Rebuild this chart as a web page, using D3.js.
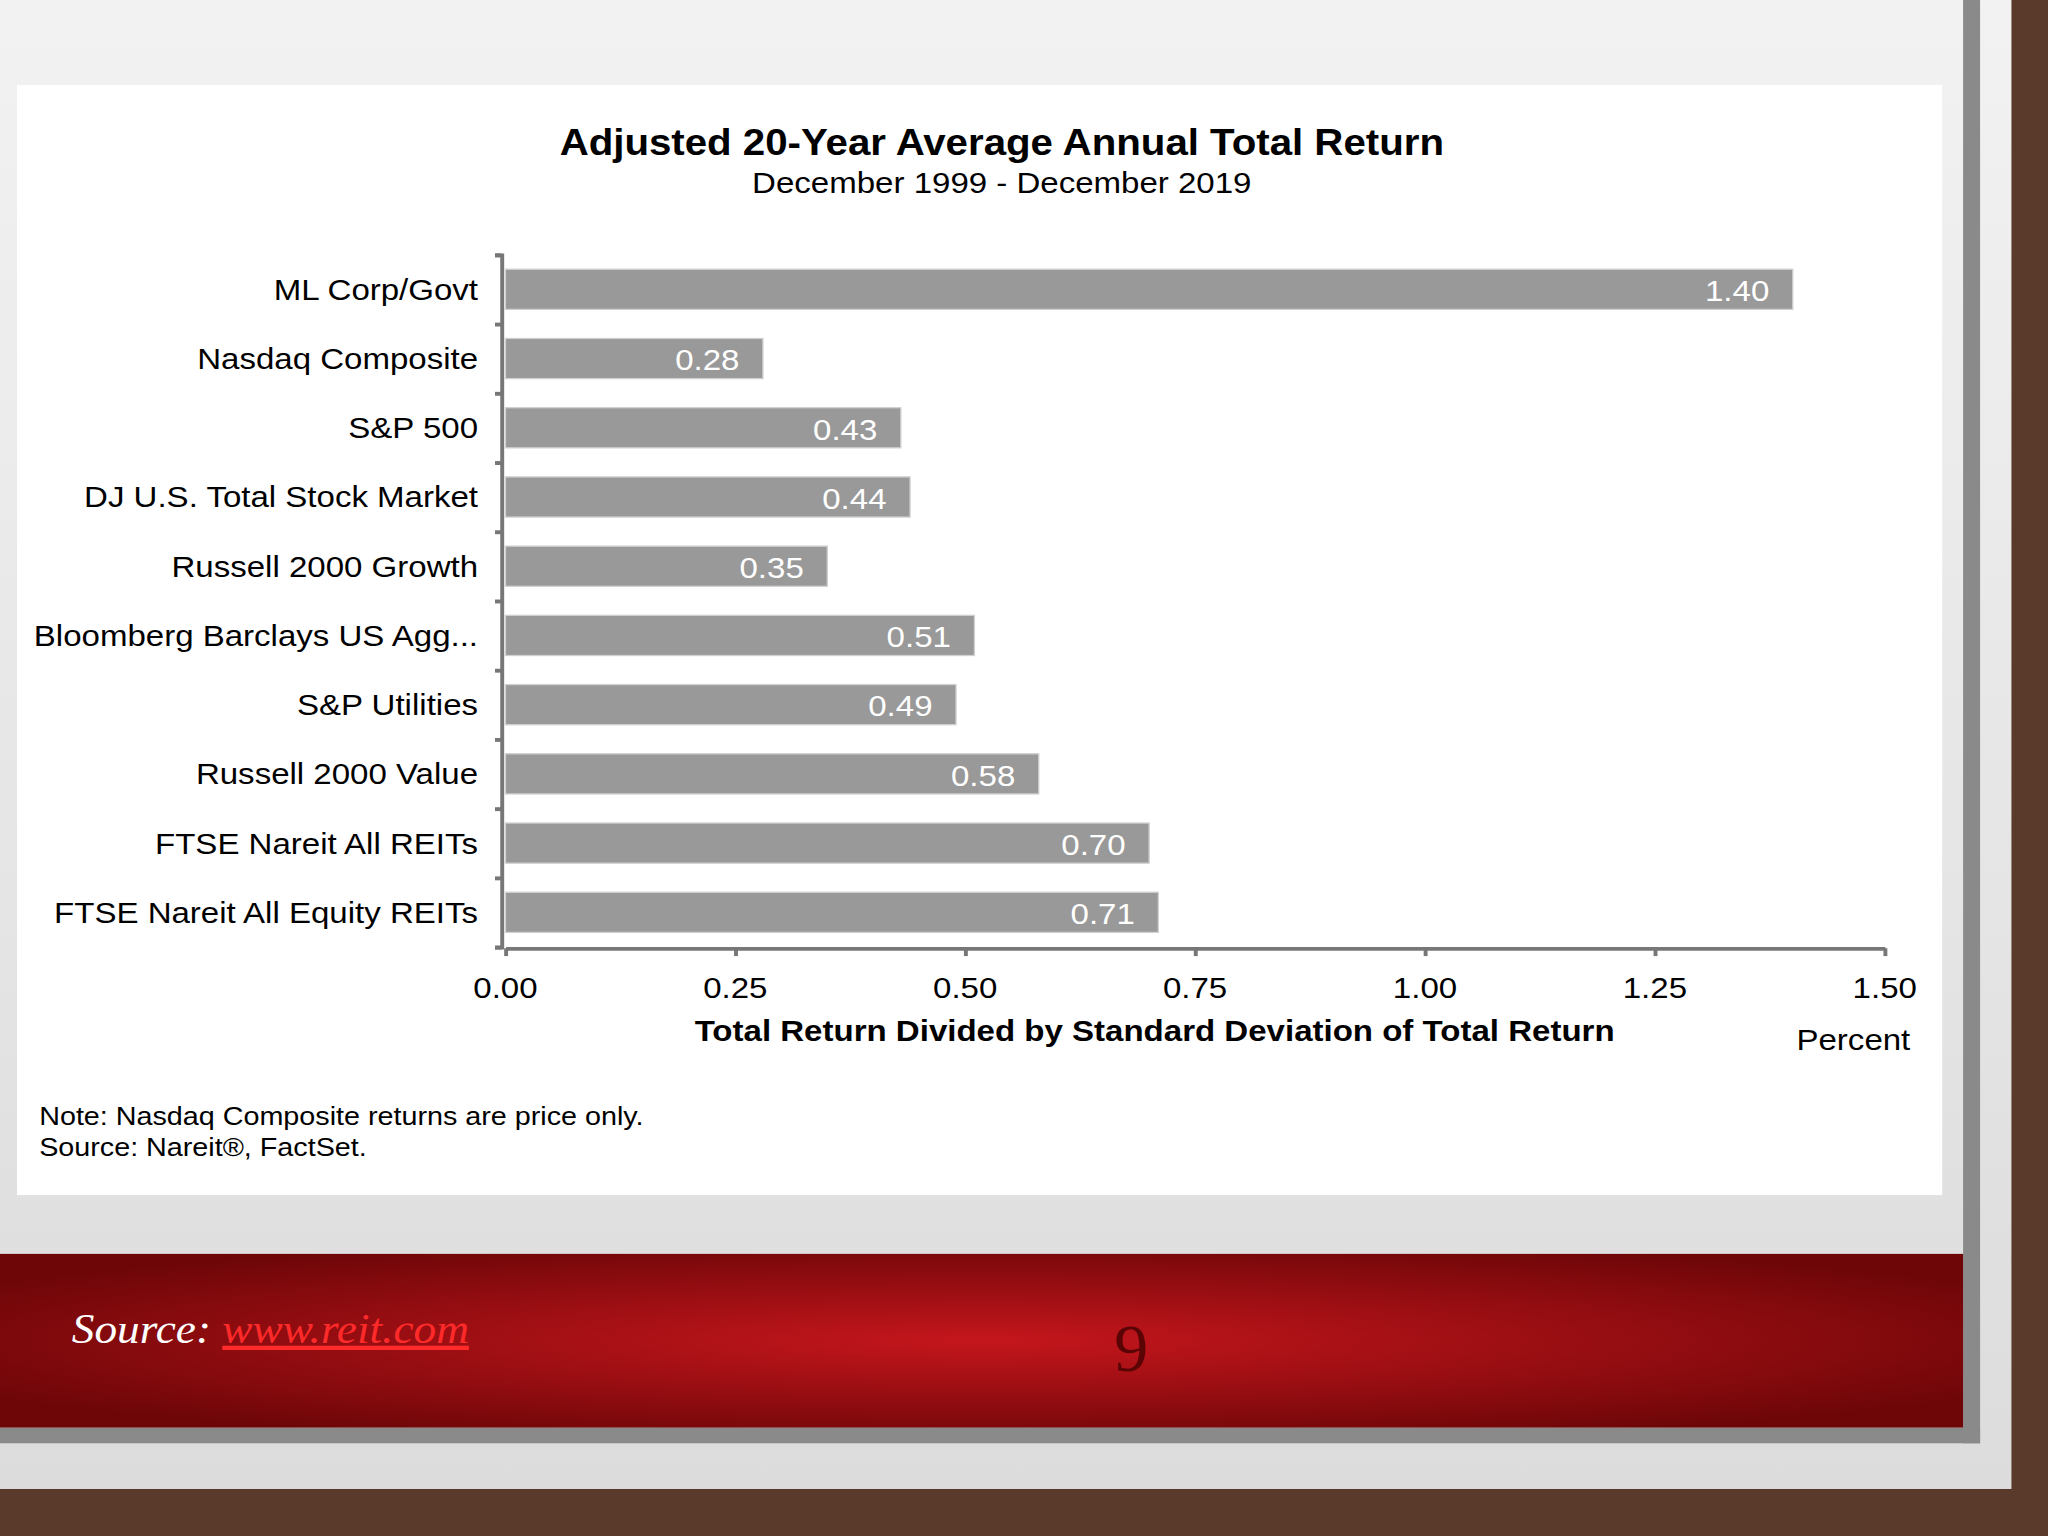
<!DOCTYPE html><html><head><meta charset="utf-8">
<script src="https://cdn.jsdelivr.net/npm/d3@7"></script>
<style>body{margin:0;overflow:hidden}svg{display:block}</style></head><body>
<script>
const categories=["ML Corp/Govt","Nasdaq Composite","S&P 500","DJ U.S. Total Stock Market","Russell 2000 Growth","Bloomberg Barclays US Agg...","S&P Utilities","Russell 2000 Value","FTSE Nareit All REITs","FTSE Nareit All Equity REITs"];
const values=[1.40,0.28,0.43,0.44,0.35,0.51,0.49,0.58,0.70,0.71];
const xTicks=[0,0.25,0.5,0.75,1.0,1.25,1.5];

const svg=d3.select("body").append("svg").attr("width",2048).attr("height",1536).attr("viewBox","0 0 1568 1176");
const defs=svg.append("defs");
const bg=defs.append("linearGradient").attr("id","bg").attr("x1",0).attr("y1",0).attr("x2",0).attr("y2",1);
bg.append("stop").attr("offset",0).attr("stop-color","#f2f2f2");bg.append("stop").attr("offset",1).attr("stop-color","#dcdcdc");
const rg=defs.append("radialGradient").attr("id","rg").attr("cx",0.5).attr("cy",0.5).attr("r",0.6);
rg.append("stop").attr("offset",0).attr("stop-color","#c4161c");rg.append("stop").attr("offset",1).attr("stop-color","#6e0608");
svg.append("rect").attr("width",1568).attr("height",1176).attr("fill","#5a3a2a");
svg.append("rect").attr("width",1540).attr("height",1140).attr("fill","url(#bg)");
svg.append("rect").attr("x",1503).attr("y",0).attr("width",13).attr("height",1105).attr("fill","#8a8a8a");
svg.append("rect").attr("x",0).attr("y",1093).attr("width",1516).attr("height",12).attr("fill","#8a8a8a");
svg.append("rect").attr("x",0).attr("y",960).attr("width",1503).attr("height",133).attr("fill","url(#rg)");
svg.append("rect").attr("x",13).attr("y",65).attr("width",1474).attr("height",850).attr("fill","#fff");

const F="Liberation Sans, Arial, sans-serif";
// horizontally stretched text helper
function st(x0,y0,anchor,size,txt,opts={}){
  const g=svg.append("g").attr("transform",`translate(${x0},${y0}) scale(1.1,1)`);
  const t=g.append("text").attr("text-anchor",anchor).attr("font-family",F).attr("font-size",size).attr("fill",opts.fill||"#000").text(txt);
  if(opts.bold)t.attr("font-weight","bold");
  return t;
}
st(767,119,"middle",28,"Adjusted 20-Year Average Annual Total Return",{bold:true});
st(767,148,"middle",23,"December 1999 - December 2019");

const x=d3.scaleLinear().domain([0,1.5]).range([387,1443]);
const y=d3.scaleBand().domain(categories).range([195,725]).paddingInner(0.42).paddingOuter(0.21);
svg.selectAll(".bar").data(values).join("rect").attr("x",x(0)).attr("y",(d,i)=>y(categories[i])).attr("width",d=>x(d)-x(0)).attr("height",y.bandwidth()).attr("fill","#999").attr("stroke","#d0d0d0").attr("stroke-width",1);
values.forEach((d,i)=>st(x(d)-18,y(categories[i])+y.bandwidth()/2+9,"end",23,d.toFixed(2),{fill:"#fff"}));

const ya=svg.append("g").attr("transform","translate(384,0)").call(d3.axisLeft(d3.scaleLinear().domain([0,10]).range([195,725])).ticks(10).tickSize(5).tickFormat(""));
ya.selectAll("path,line").attr("stroke","#777").attr("stroke-width",3);
categories.forEach(c=>st(366,y(c)+y.bandwidth()/2+8,"end",23,c));

const xa=svg.append("g").attr("transform","translate(0,726)").call(d3.axisBottom(x).tickValues(xTicks).tickSize(6).tickSizeOuter(0).tickFormat(""));
xa.selectAll("path,line").attr("stroke","#777").attr("stroke-width",3);
xTicks.forEach(v=>st(x(v),764,"middle",23,d3.format(".2f")(v)));
st(884,797,"middle",23,"Total Return Divided by Standard Deviation of Total Return",{bold:true});
st(1419,804,"middle",23,"Percent");
st(30,861,"start",20,"Note: Nasdaq Composite returns are price only.");
st(30,885,"start",20,"Source: Nareit®, FactSet.");

const t=svg.append("text").attr("x",55).attr("y",1028).attr("font-family","Liberation Serif, serif").attr("font-style","italic").attr("font-size",33).attr("fill","#fff").attr("textLength",304).attr("lengthAdjust","spacingAndGlyphs");
t.append("tspan").text("Source: ");
t.append("tspan").attr("fill","#ff2a2a").attr("text-decoration","underline").text("www.reit.com");
svg.append("text").attr("x",866).attr("y",1050).attr("text-anchor","middle").attr("font-family","Liberation Serif, serif").attr("font-size",52).attr("fill","#5a0406").text("9");
</script></body></html>
